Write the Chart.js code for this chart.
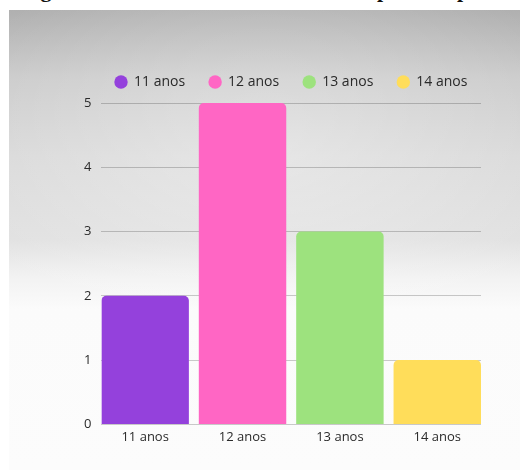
<!DOCTYPE html>
<html>
<head>
<meta charset="utf-8">
<script src="https://cdn.jsdelivr.net/npm/chart.js@4"></script>
<style>
  html, body { margin:0; padding:0; width:520px; height:470px; overflow:hidden; background:#fff; }
  #bg { position:absolute; left:9px; top:10px; width:511px; height:460px;
    background:
      radial-gradient(ellipse 65% 45% at 50% 30%, rgba(255,255,255,0.35), rgba(255,255,255,0) 100%),
      linear-gradient(to bottom, #b0b0b0 0%, #cbcbcb 15%, #d9d9d9 32%, #e1e1e1 50%, #f2f2f2 58%, #fbfbfb 65%, #fcfcfc 100%);
  }
  .t { position:absolute; top:-23px; font-family:"Liberation Serif", serif; font-weight:bold; font-size:22px; color:#111; white-space:nowrap; }
  #wrap { position:absolute; left:0; top:0; width:520px; height:470px; }
</style>
</head>
<body>
<div class="t" style="left:21px">Figura 6 –</div>
<div class="t" style="left:377px">p</div>
<div class="t" style="left:457px">p</div>
<div id="bg"></div>
<div id="wrap"><canvas id="c" width="520" height="470"></canvas></div>
<script>
const categories = ["11 anos", "12 anos", "13 anos", "14 anos"];
const seriesNames = ["11 anos", "12 anos", "13 anos", "14 anos"];
const values = [2, 5, 3, 1];
const colors = ["#9441dc", "#ff66c4", "#9de27e", "#ffdd5a"];
const yTicks = [0, 1, 2, 3, 4, 5];

const datasets = seriesNames.map((name, i) => ({
  label: name,
  data: categories.map((c, j) => (j === i ? values[i] : null)),
  backgroundColor: colors[i],
  borderRadius: 5,
  borderSkipped: 'start',
  barPercentage: 0.898,
  categoryPercentage: 1
}));

Chart.defaults.font.family = "'Open Sans', 'Noto Sans', sans-serif";
Chart.defaults.font.size = 13;
Chart.defaults.color = "#2a2a2a";

const legendGap = {
  id: 'legendGap',
  beforeInit(chart) {
    const fit = chart.legend.fit;
    chart.legend.fit = function () { fit.call(this); this.height += 4; };
  },
  afterLayout(chart) {
    const l = chart.legend, ca = chart.chartArea;
    const shift = (ca.left + ca.right) / 2 - (l.left + l.right) / 2;
    l.left += shift; l.right += shift;
    // bars flush with the ends of the plot area (smaller edge offset than default)
    const x = chart.scales.x;
    const half = 0.449;
    x._startValue = -half;
    x._valueRange = (categories.length - 1) + 2 * half;
  }
};

new Chart(document.getElementById('c'), {
  type: 'bar',
  data: { labels: categories, datasets },
  plugins: [legendGap],
  options: {
    responsive: false,
    animation: false,
    skipNull: true,
    layout: { padding: { top: 51, left: 74, right: 39, bottom: 28 } },
    plugins: {
      legend: {
        position: 'top',
        labels: { usePointStyle: true, pointStyle: 'circle', boxWidth: 12, boxHeight: 9.5, padding: 24, font: { size: 14 } }
      },
      tooltip: { enabled: false }
    },
    scales: {
      x: {
        grid: { display: false },
        border: { display: false },
        ticks: { padding: -3, font: { size: 13 } }
      },
      y: {
        min: 0, max: 5,
        afterBuildTicks: (ax) => { ax.ticks = yTicks.map(v => ({ value: v })); },
        grid: { color: 'rgba(0,0,0,0.2)', drawTicks: false },
        border: { display: false },
        ticks: { padding: 10, font: { size: 13 } }
      }
    }
  }
});
</script>
</body>
</html>
